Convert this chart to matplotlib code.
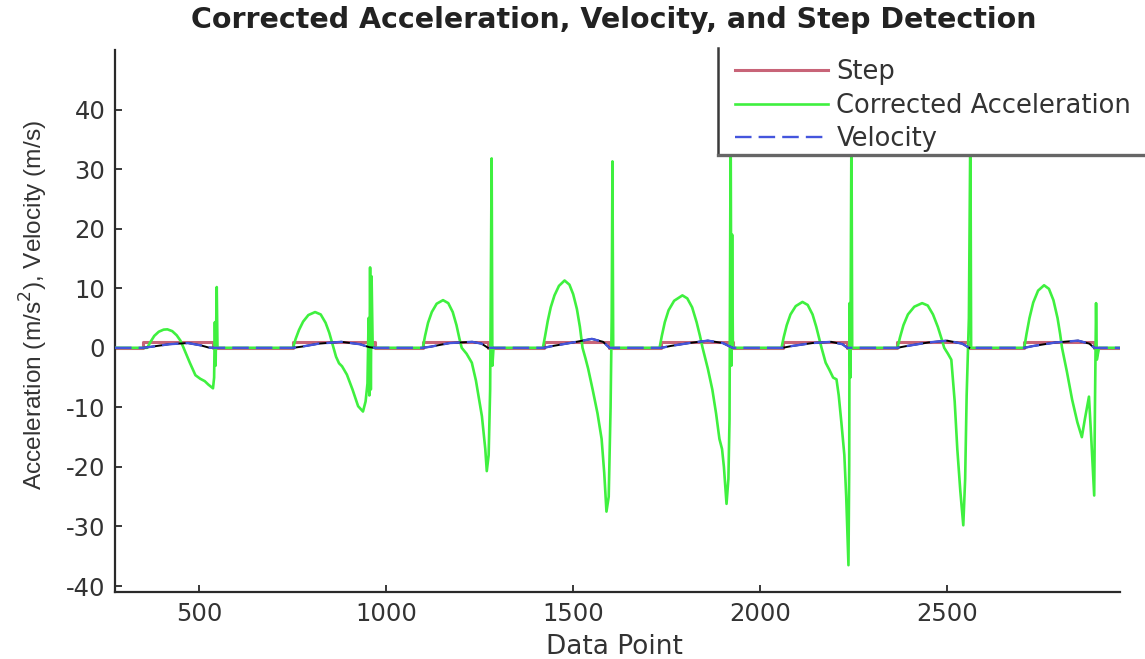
import matplotlib.pyplot as plt
import numpy as np
from matplotlib.lines import Line2D
from matplotlib.patches import Rectangle

plt.rcParams['axes.unicode_minus'] = False

# step detection pulses (data point index where a step starts / ends)
step_on = [350, 751, 1098, 1421, 1736, 2060, 2367, 2706]
step_off = [537, 970, 1272, 1597, 1926, 2233, 2559, 2893]
step_level = 1.0

# corrected acceleration
acc_x = [275,
         350, 361, 370, 380, 392, 405, 415, 428, 440, 450, 457, 465, 475, 490, 503, 515, 525, 537, 540, 542, 544, 547, 549,
         751, 758, 767, 778, 792, 810, 825, 838, 848, 858, 866, 874, 882, 895, 910, 925, 938, 945, 950, 953, 955, 957, 959, 961, 964,
         1098, 1104, 1112, 1122, 1135, 1152, 1166, 1178, 1188, 1196, 1202, 1215, 1229, 1240, 1256, 1265, 1269, 1274, 1278, 1280, 1282, 1284, 1287,
         1419, 1425, 1432, 1440, 1450, 1462, 1477, 1490, 1500, 1510, 1518, 1525, 1533, 1540, 1552, 1565, 1576, 1583, 1589, 1595, 1600, 1603, 1605, 1607,
         1731, 1737, 1745, 1755, 1770, 1792, 1805, 1818, 1830, 1839, 1846, 1860, 1872, 1882, 1891, 1898, 1903, 1910, 1915, 1918, 1921, 1923, 1925, 1927,
         2057, 2063, 2071, 2081, 2095, 2113, 2127, 2140, 2150, 2158, 2164, 2175, 2185, 2195, 2204, 2210, 2217, 2225, 2230, 2236, 2238, 2239, 2241, 2244, 2246,
         2367, 2374, 2383, 2395, 2412, 2433, 2448, 2462, 2475, 2485, 2492, 2502, 2511, 2520, 2527, 2535, 2543, 2548, 2552, 2558, 2562, 2564,
         2706, 2712, 2720, 2730, 2743, 2759, 2772, 2784, 2795, 2802, 2807, 2820, 2834, 2848, 2860, 2868, 2879, 2885, 2893, 2895, 2898, 2900, 2906,
         2962]
acc_y = [0,
         0, 0, 1.0, 2.0, 2.7, 3.05, 3.1, 2.8, 2.1, 1.2, 0.2, -1.0, -2.5, -4.6, -5.2, -5.6, -6.2, -6.8, -5.0, 4.3, -3.0, 10.2, 0,
         0, 1.5, 3.0, 4.4, 5.5, 6.0, 5.6, 4.2, 2.5, 0.3, -1.5, -2.6, -3.1, -4.5, -7.0, -9.8, -10.7, -9.0, -6.0, 5.0, -8.0, 13.5, -7.0, 12.0, 0,
         0, 2.0, 4.2, 6.0, 7.4, 8.0, 7.5, 6.0, 3.8, 1.5, 0, -1.0, -2.5, -5.5, -11.5, -17.0, -20.7, -18.0, -7.0, 13.0, 31.8, -3.0, 0,
         0, 2.0, 4.5, 6.8, 8.8, 10.4, 11.3, 10.6, 9.0, 6.5, 3.5, 0, -1.8, -3.5, -7.0, -11.0, -15.3, -21.0, -27.5, -25.0, -10.0, 5.0, 31.3, 0,
         0, 2.0, 4.3, 6.3, 7.9, 8.8, 8.3, 6.8, 4.3, 2.0, 0, -3.5, -7.0, -11.0, -15.3, -17.0, -20.0, -26.2, -22.0, -12.0, 38.0, -3.0, 19.0, 0,
         0, 1.8, 3.8, 5.6, 7.0, 7.7, 7.2, 5.6, 3.5, 1.5, 0, -2.5, -3.7, -5.0, -5.3, -8.0, -12.5, -18.0, -25.0, -36.5, -20.0, 7.5, -5.0, 38.0, 0,
         0, 1.8, 3.8, 5.6, 6.9, 7.5, 7.1, 5.6, 3.5, 1.5, 0, -1.0, -2.0, -9.0, -17.0, -24.0, -29.8, -22.0, -8.0, 5.0, 38.0, 0,
         0, 2.3, 5.0, 7.6, 9.6, 10.5, 9.9, 8.0, 5.0, 2.3, 0, -4.0, -8.7, -12.5, -15.0, -12.0, -8.2, -15.0, -24.8, -10.0, 7.5, -2.0, 0,
         0]

# velocity
vel_x = [275,
         350, 375, 420, 470, 505, 525, 537,
         751, 775, 820, 880, 930, 955, 970,
         1098, 1120, 1170, 1230, 1255, 1272,
         1421, 1445, 1500, 1550, 1580, 1597,
         1736, 1760, 1810, 1860, 1900, 1926,
         2060, 2085, 2140, 2190, 2220, 2233,
         2367, 2392, 2450, 2500, 2540, 2559,
         2706, 2730, 2790, 2850, 2880, 2893,
         2962]
vel_y = [0,
         0, 0.2, 0.6, 0.8, 0.4, 0.05, 0,
         0, 0.2, 0.7, 1.0, 0.6, 0.1, 0,
         0, 0.2, 0.8, 1.0, 0.7, 0,
         0, 0.3, 0.9, 1.5, 1.0, 0,
         0, 0.3, 0.8, 1.2, 0.8, 0,
         0, 0.3, 0.8, 1.0, 0.6, 0,
         0, 0.3, 0.9, 1.2, 0.7, 0,
         0, 0.3, 0.9, 1.2, 0.7, 0,
         0]

x_ticks = [500, 1000, 1500, 2000, 2500]
y_ticks = [-40, -30, -20, -10, 0, 10, 20, 30, 40]

W, H = 1145, 659
fig = plt.figure(figsize=(W / 100, H / 100), dpi=100)
ax = fig.add_axes([115 / W, 1 - 592 / H, (1120 - 115) / W, (592 - 50) / H])

# step pulse train built from the on/off indices
sx = [acc_x[0]]
sy = [0]
for a, b in zip(step_on, step_off):
    sx += [a, a, b, b]
    sy += [0, step_level, step_level, 0]
sx.append(acc_x[-1])
sy.append(0)

vx = np.array(vel_x)
vy = np.array(vel_y)

l_step, = ax.plot(sx, sy, color='#c86478', lw=2.2, zorder=2)
l_acc, = ax.plot(acc_x, acc_y, color='#3ff03f', lw=1.9, zorder=3)
for a, b in zip(step_on, step_off):
    m = (vx >= a) & (vx <= b)
    ax.plot(vx[m], vy[m], color='black', lw=1.4, zorder=3.5)
l_vel, = ax.plot(vel_x, vel_y, color='#4455dd', lw=1.7, dashes=(7, 3), zorder=4)

ax.set_xlim(275, 2962)
ax.set_ylim(-41, 50)
ax.set_xticks(x_ticks)
ax.set_yticks(y_ticks)
ax.spines['top'].set_visible(False)
ax.spines['right'].set_visible(False)
for s in ['left', 'bottom']:
    ax.spines[s].set_color('#2a2a2a')
    ax.spines[s].set_linewidth(1.6)
ax.tick_params(direction='in', length=5, width=1.3, colors='#2a2a2a',
               labelsize=17.5, labelcolor='#333333', pad=7)

ax.set_xlabel('Data Point', fontsize=19, color='#333333')
ax.xaxis.set_label_coords(0.4965, -0.077)
ax.set_ylabel('Acceleration (m/s$^2$), Velocity (m/s)', fontsize=17.6,
              color='#333333', family='Liberation Sans')
ax.yaxis.set_label_coords(-0.065, 0.53)

fig.text(614 / W, 1 - 20 / H, 'Corrected Acceleration, Velocity, and Step Detection',
         ha='center', va='center', fontsize=20.5, fontweight='bold', color='#222222')

# legend box: white background, only left and bottom edges show
ax.add_patch(Rectangle((718 / W, 1 - 155 / H), 0.3, (155 - 48) / H,
                       transform=fig.transFigure, facecolor='white', edgecolor='none',
                       clip_on=False, zorder=4.6))
ax.add_line(Line2D([718 / W, 718 / W], [1 - 155 / H, 1 - 48 / H], transform=fig.transFigure,
                   color='#3a3a3a', lw=1.8, clip_on=False, zorder=4.7))
ax.add_line(Line2D([718 / W, 1.0], [1 - 155 / H, 1 - 155 / H], transform=fig.transFigure,
                   color='#666666', lw=2.4, clip_on=False, zorder=4.7))

leg = ax.legend([l_step, l_acc, l_vel], ['Step', 'Corrected Acceleration', 'Velocity'],
                loc='upper left', bbox_to_anchor=(735 / W, 1 - 59 / H),
                bbox_transform=fig.transFigure, frameon=False, fontsize=18.5,
                handlelength=3.6, handletextpad=0.35, labelspacing=0.3,
                borderaxespad=0, borderpad=0)
leg.set_zorder(5)
for t in leg.get_texts():
    t.set_color('#333333')

fig.savefig('out.png', dpi=100)
